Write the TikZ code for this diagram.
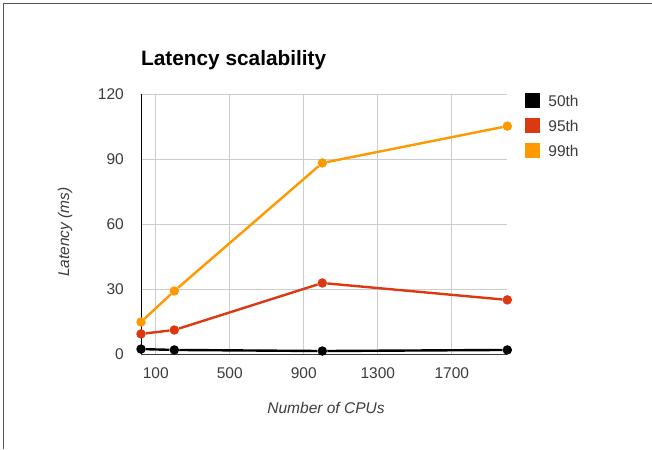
\documentclass[tikz,border=0pt]{standalone}
\usepackage{fontspec}
\setmainfont{Liberation Sans}
\usetikzlibrary{positioning}
\definecolor{pctblack}{HTML}{000000}
\definecolor{pctred}{HTML}{DC3912}
\definecolor{pctorange}{HTML}{FF9900}
\definecolor{gridcol}{HTML}{CCCCCC}
\definecolor{labelcol}{HTML}{3C3C3C}
\definecolor{framecol}{HTML}{555555}
\begin{document}
\begin{tikzpicture}
[x=1pt,y=1pt,
  dotdecorate/.style={shape=circle,inner sep=0pt,minimum size=9.5pt,fill=#1},%
  linedecorate/.style={-,line width=2.4pt,#1},%
  gridline/.style={gridcol,line width=1pt},%
  ticklabel/.style={labelcol,inner sep=0pt,font=\fontsize{15.5}{18}\selectfont},%
  axistitle/.style={labelcol,inner sep=0pt,font=\fontsize{15.5}{18}\selectfont\itshape},%
  keybox/.style={shape=rectangle,inner sep=0pt,minimum size=15pt,fill=#1}]
%% canvas and frame
\useasboundingbox[fill=white] (0,0) rectangle (652,449);
\draw[framecol,line width=1.5pt] (3.5,0) -- (3.5,445.5) -- (652,445.5);
%% title
\node (title) at (141,383) [anchor=base west,inner sep=0pt,
  font=\fontsize{20.8}{24}\selectfont\bfseries] {Latency scalability};
%% plot area, data units
\begin{scope}[shift={(137.3pt,94.5pt)},x=0.185pt,y=2.1667pt]
\foreach \gx in {100,500,900,1300,1700} {
  \draw[gridline] (\gx,0) -- (\gx,120);
  \node (xtick\gx) at (\gx,0) [ticklabel,yshift=-18.5pt] {\gx};
}
\foreach \gy in {30,60,90,120} {
  \draw[gridline] (20,\gy) -- (2000,\gy);
}
\foreach \gy in {0,30,60,90,120} {
  \node (ytick\gy) at (20,\gy) [ticklabel,anchor=east,xshift=-17pt] {\gy};
}
\draw[labelcol,line width=1pt] (20,0) -- (2000,0);
\draw[black,line width=1pt] (20,0) -- (20,120);
%% nodes or markers
\foreach \nodename/\x/\y/\col in {k1/20/2.5/pctblack, k2/200/2.1/pctblack,
  k3/1000/1.6/pctblack, k4/2000/2.1/pctblack,
  r1/20/9.5/pctred, r2/200/11.3/pctred, r3/1000/33/pctred, r4/2000/25.2/pctred,
  o1/20/15/pctorange, o2/200/29.3/pctorange, o3/1000/88.4/pctorange,
  o4/2000/105.4/pctorange} {
  \node (\nodename) at (\x,\y) [dotdecorate=\col] {};
}
%% edges or lines
\path
\foreach \startnode/\endnode/\col in {k1/k2/pctblack, k2/k3/pctblack,
  k3/k4/pctblack, r1/r2/pctred, r2/r3/pctred, r3/r4/pctred,
  o1/o2/pctorange, o2/o3/pctorange, o3/o4/pctorange} {
  (\startnode) edge[linedecorate=\col] (\endnode)
};
\end{scope}
%% axis titles
\node (ytitle) at (65,217) [axistitle,rotate=90] {Latency (ms)};
\node (xtitle) at (326,41) [axistitle] {Number of CPUs};
%% legend
\foreach \nodename/\col/\lbl/\y in {key50/pctblack/50th/348,
  key95/pctred/95th/323, key99/pctorange/99th/298} {
  \node (\nodename) at (532.5,\y) [keybox=\col] {};
  \node (\nodename txt) [ticklabel,right=8pt of \nodename] {\lbl};
}
\end{tikzpicture}
\end{document}
